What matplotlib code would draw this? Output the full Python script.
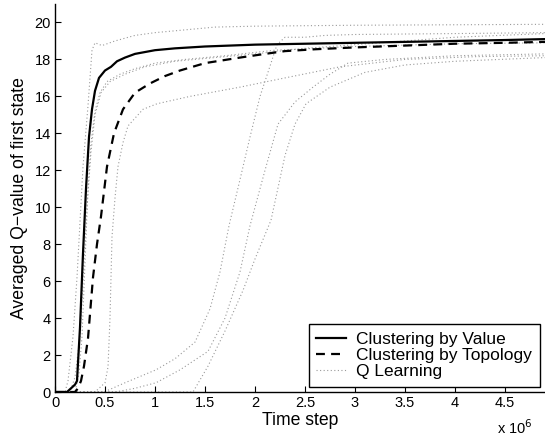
import matplotlib
matplotlib.use("Agg")
import matplotlib.pyplot as plt

plt.rcParams['font.family'] = ['Liberation Sans', 'DejaVu Sans']

# time in units of 1e6 steps
val_t = [0, 0.12, 0.16, 0.2, 0.22, 0.25, 0.28, 0.31, 0.34, 0.37, 0.40, 0.44, 0.5, 0.56, 0.62, 0.7, 0.8, 1.0, 1.2, 1.5, 2.0, 2.5, 3.0, 3.5, 4.0, 4.5, 4.9]
val_q = [0, 0, 0.2, 0.4, 0.6, 3.5, 7.5, 11, 13.8, 15.3, 16.3, 17.0, 17.4, 17.6, 17.9, 18.1, 18.3, 18.5, 18.6, 18.7, 18.8, 18.85, 18.9, 18.95, 19.0, 19.05, 19.1]

top_t = [0, 0.2, 0.23, 0.26, 0.29, 0.33, 0.38, 0.42, 0.46, 0.52, 0.59, 0.68, 0.8, 0.95, 1.1, 1.25, 1.5, 1.85, 2.1, 2.3, 2.6, 3.0, 3.5, 4.0, 4.5, 4.9]
top_q = [0, 0, 0.2, 0.6, 1.4, 2.9, 6.2, 8.0, 9.5, 12.2, 14.0, 15.3, 16.2, 16.7, 17.1, 17.4, 17.8, 18.1, 18.3, 18.45, 18.55, 18.65, 18.75, 18.85, 18.9, 18.95]

q_runs_t = [
    [0, 0.1, 0.13, 0.18, 0.22, 0.28, 0.33, 0.37, 0.40, 0.47, 0.6, 0.8, 1.0, 1.3, 1.6, 2.0, 3.0, 4.9],
    [0, 0.2, 0.24, 0.27, 0.30, 0.33, 0.36, 0.40, 0.45, 0.52, 0.65, 0.8, 1.0, 1.3, 1.7, 2.2, 3.0, 4.0, 4.9],
    [0, 0.15, 0.2, 0.25, 0.28, 0.32, 0.36, 0.40, 0.46, 0.55, 0.7, 0.9, 1.2, 1.6, 2.0, 2.5, 3.0, 4.0, 4.9],
    [0, 0.4, 0.5, 0.53, 0.55, 0.57, 0.6, 0.63, 0.68, 0.73, 0.88, 1.02, 1.35, 1.85, 2.3, 2.85, 3.5, 4.2, 4.9],
    [0, 0.49, 0.7, 1.01, 1.2, 1.40, 1.55, 1.65, 1.74, 1.85, 1.95, 2.05, 2.16, 2.22, 2.3, 2.5, 2.7, 3.0, 4.0, 4.9],
    [0, 0.6, 0.8, 1.01, 1.25, 1.53, 1.7, 1.85, 1.95, 2.1, 2.23, 2.4, 2.58, 2.75, 2.93, 3.3, 4.0, 4.9],
    [0, 1.38, 1.53, 1.7, 1.88, 2.0, 2.16, 2.3, 2.4, 2.51, 2.75, 3.1, 3.5, 4.0, 4.9],
]
q_runs_q = [
    [0, 0, 0.6, 3, 6.2, 12.2, 15.5, 18.5, 18.9, 18.75, 19.0, 19.3, 19.45, 19.6, 19.75, 19.8, 19.85, 19.9],
    [0, 0, 1, 3, 7, 11, 13.5, 15.2, 16.2, 16.8, 17.2, 17.5, 17.8, 18.0, 18.2, 18.5, 18.7, 18.85, 18.9],
    [0, 0, 0.8, 3, 6, 10, 13, 15, 16.2, 16.8, 17.2, 17.6, 17.9, 18.1, 18.3, 18.6, 18.8, 19.2, 19.4],
    [0, 0, 0.5, 1.35, 4, 8.4, 10.5, 12.2, 13.5, 14.4, 15.3, 15.6, 16.0, 16.5, 17.0, 17.6, 18.0, 18.15, 18.2],
    [0, 0, 0.5, 1.2, 1.8, 2.7, 4.5, 6.5, 9.0, 11.5, 13.8, 16, 17.8, 18.8, 19.2, 19.2, 19.3, 19.35, 19.4, 19.45],
    [0, 0, 0.2, 0.5, 1.2, 2.2, 4, 6.5, 9.0, 12.0, 14.5, 15.7, 16.5, 17.2, 17.8, 18.0, 18.2, 18.3],
    [0, 0, 1.4, 3.3, 5.5, 7.2, 9.3, 12.8, 14.5, 15.6, 16.5, 17.3, 17.7, 17.9, 18.1],
]

xticks = [0, 0.5, 1, 1.5, 2, 2.5, 3, 3.5, 4, 4.5]
xticklabels = ['0', '0.5', '1', '1.5', '2', '2.5', '3', '3.5', '4', '4.5']
yticks = [0, 2, 4, 6, 8, 10, 12, 14, 16, 18, 20]

fig = plt.figure(figsize=(5.45, 4.37), dpi=100)
ax = fig.add_axes([55/545, 45/437, 490/545, 388/437])

for i, (t, q) in enumerate(zip(q_runs_t, q_runs_q)):
    ax.plot(t, q, color='0.6', lw=0.8, linestyle=(0, (1, 2.2)),
            label='Q Learning' if i == 0 else None, zorder=1)
ax.plot(val_t, val_q, color='black', lw=1.6, label='Clustering by Value', zorder=3)
ax.plot(top_t, top_q, color='black', lw=1.6, linestyle=(0, (4, 2.8)),
        label='Clustering by Topology', zorder=3)

ax.set_xlim(0, 4.9)
ax.set_ylim(0, 21)
ax.set_xticks(xticks)
ax.set_xticklabels(xticklabels)
ax.set_yticks(yticks)
ax.tick_params(direction='in', length=4.5, width=0.8, labelsize=10.5, pad=3)
for s in ['top', 'right']:
    ax.spines[s].set_visible(False)
for s in ['left', 'bottom']:
    ax.spines[s].set_linewidth(1.0)

ax.set_xlabel('Time step', fontsize=12.7, labelpad=1.5)
ax.set_ylabel('Averaged Q\u2212value of first state', fontsize=12.7, labelpad=5)
fig.text(515/545, 1 - 428/437, 'x 10$^6$', fontsize=10.5, ha='center', va='center')

h, l = ax.get_legend_handles_labels()
order = [l.index('Clustering by Value'), l.index('Clustering by Topology'), l.index('Q Learning')]
leg = ax.legend([h[i] for i in order], [l[i] for i in order], loc='lower right',
                bbox_to_anchor=(0.990, 0.013), borderaxespad=0, fontsize=12.5,
                fancybox=False, framealpha=1, edgecolor='black', handlelength=1.7,
                labelspacing=0.05, borderpad=0.45, handletextpad=0.6)
leg.get_frame().set_linewidth(1.0)

fig.savefig('out.png', dpi=100)
